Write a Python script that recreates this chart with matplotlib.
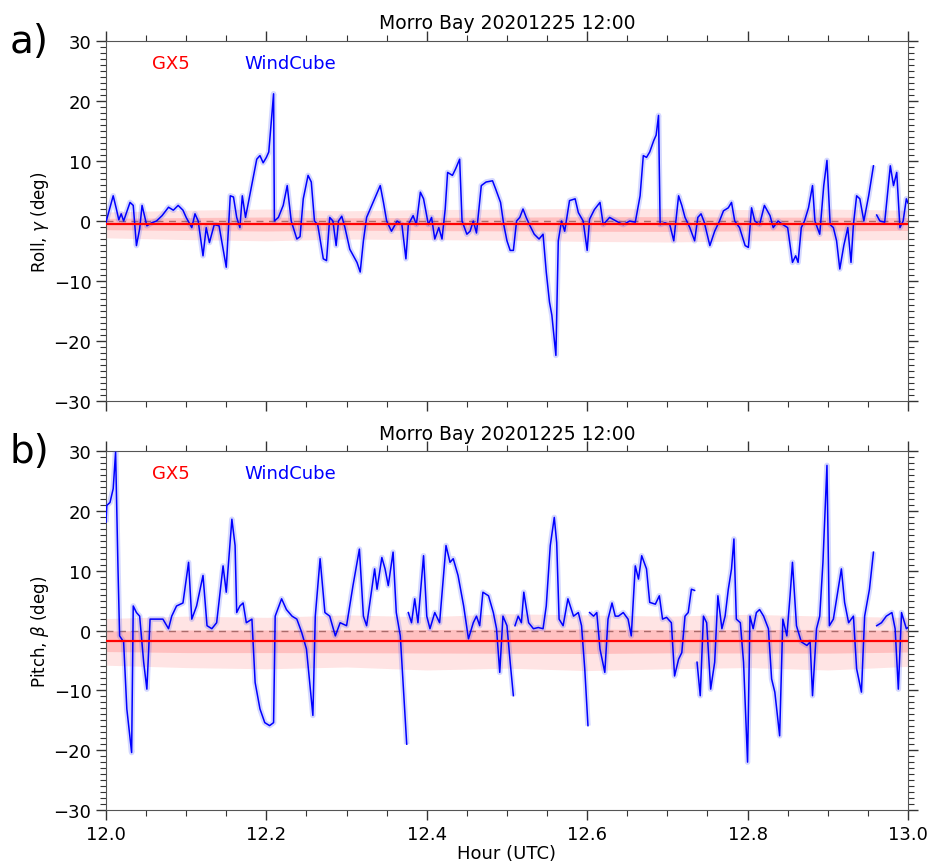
import numpy as np
import matplotlib.pyplot as plt
from matplotlib.ticker import MultipleLocator

nan = np.nan

# ---- panel a: roll ----
roll_hour = [12.000, 12.009, 12.013, 12.016, 12.019, 12.022, 12.030, 12.034, 12.038, 12.042,
             12.045, 12.051, 12.057, 12.063, 12.070, 12.078, 12.084, 12.090, 12.096, 12.100,
             12.107, 12.111, 12.115, 12.121, 12.125, 12.129, 12.135, 12.141, 12.150, 12.155,
             12.159, 12.163, 12.167, 12.170, 12.174, 12.188, 12.192, 12.196, 12.200, 12.203,
             12.209, 12.210, 12.215, 12.221, 12.226, 12.231, 12.238, 12.242, 12.246, 12.252,
             12.256, 12.260, 12.264, 12.271, 12.275, 12.279, 12.283, 12.287, 12.290, 12.294,
             12.298, 12.304, 12.313, 12.317, 12.321, 12.325, 12.333, 12.342, 12.346, 12.350,
             12.356, 12.363, 12.369, 12.374, 12.377, 12.383, 12.387, 12.392, 12.396, 12.402,
             12.406, 12.410, 12.415, 12.419, 12.423, 12.426, 12.432, 12.436, 12.441, 12.444,
             12.450, 12.454, 12.458, 12.462, 12.468, 12.474, 12.482, 12.486, 12.492, 12.496,
             12.500, 12.504, 12.508, 12.512, 12.516, 12.520, 12.524, 12.528, 12.534, 12.540,
             12.545, 12.549, 12.553, 12.556, 12.561, 12.564, 12.568, 12.572, 12.578, 12.585,
             12.589, 12.595, 12.600, 12.603, 12.609, 12.616, 12.620, 12.628, 12.636, 12.645,
             12.653, 12.660, 12.666, 12.670, 12.674, 12.678, 12.683, 12.686, 12.689, 12.691,
             12.697, 12.703, 12.708, 12.714, 12.718, 12.722, 12.728, 12.734, 12.738, 12.742,
             12.746, 12.753, 12.759, 12.765, 12.770, 12.776, 12.780, 12.784, 12.790, 12.797,
             12.801, 12.805, 12.809, 12.815, 12.821, 12.828, 12.832, 12.838, 12.844, 12.850,
             12.856, 12.860, 12.863, 12.867, 12.871, 12.876, 12.881, 12.884, 12.890, 12.895,
             12.899, 12.903, 12.907, 12.911, 12.915, 12.920, 12.925, 12.929, 12.932, 12.936,
             12.940, 12.945, 12.951, 12.957, 12.958, 12.961, 12.965, 12.971, 12.978, 12.982,
             12.986, 12.990, 12.994, 12.998, 13.000]
roll_wc = [-0.2, 4.2, 2.0, 0.2, 1.2, 0.0, 3.1, 2.6, -4.1, -1.3,
           2.6, -0.8, -0.3, 0.0, 0.9, 2.3, 1.8, 2.6, 1.8, 0.6,
           -1.1, 1.2, 0.0, -5.8, -1.1, -3.6, -0.6, -0.8, -7.7, 4.2,
           4.0, 0.6, -1.1, 4.2, 0.6, 10.3, 10.9, 9.7, 10.6, 11.5,
           21.2, 0.0, 0.6, 2.6, 5.9, 0.0, -3.0, -2.6, 3.7, 7.6,
           6.5, 0.0, -0.6, -6.3, -6.6, 0.6, 0.0, -4.1, 0.0, 0.8,
           -1.1, -4.7, -6.9, -8.5, -3.3, 0.6, 3.1, 5.9, 3.1, 0.0,
           -1.7, 0.0, -0.6, -6.3, -0.6, 0.9, -0.6, 4.8, 3.7, -0.6,
           0.6, -3.0, -1.1, -3.0, 2.0, 8.1, 7.6, 8.7, 10.3, 0.0,
           -2.2, -1.7, 0.0, -2.0, 5.9, 6.5, 6.7, 5.3, 3.1, -0.6,
           -3.3, -4.9, -4.9, 0.0, 0.6, 2.0, 0.6, -0.6, -2.2, -3.0,
           -2.2, -8.5, -13.5, -15.7, -22.4, -3.3, 0.0, -1.7, 3.4, 3.7,
           1.4, 0.0, -4.9, 0.3, 1.9, 3.1, -0.6, 0.6, 0.0, -0.6,
           0.0, -0.2, 4.2, 10.9, 10.6, 11.5, 13.4, 14.3, 17.6, -0.6,
           -0.3, -0.6, -3.3, 4.2, 2.6, 0.6, -1.1, -3.3, 0.6, 1.2,
           -0.2, -4.1, -1.7, 0.0, 1.7, 2.2, 3.1, 0.0, -1.1, -4.1,
           -4.4, 2.2, 0.0, -0.6, 2.6, 0.9, -1.1, 0.0, -0.6, -1.1,
           -6.9, -5.8, -6.9, -1.1, 0.0, 2.2, 5.9, 0.0, -2.2, 5.9,
           10.1, -0.6, -1.1, -3.3, -8.0, -4.1, -1.1, -6.9, -0.6, 4.2,
           3.7, 0.0, 4.2, 9.2, nan, 1.0, 0.0, -0.2, 9.2, 5.9,
           8.1, -1.1, 0.0, 3.7, 3.0]
roll_gx5_mean = -0.5
roll_gx5_hour = [12.0, 12.1, 12.2, 12.3, 12.4, 12.5, 12.6, 12.7, 12.8, 12.9, 13.0]
roll_gx5_hi = [2.0, 2.3, 2.5, 2.2, 2.4, 2.5, 2.6, 2.6, 2.4, 2.5, 2.3]
roll_gx5_lo = [-2.3, -2.6, -2.8, -2.5, -2.6, -2.7, -2.9, -3.0, -2.8, -2.7, -2.6]

# ---- panel b: pitch ----
pitch_hour = [12.000, 12.001, 12.005, 12.009, 12.012, 12.015, 12.017, 12.022, 12.026, 12.032,
              12.034, 12.038, 12.042, 12.047, 12.051, 12.055, 12.063, 12.071, 12.078, 12.082,
              12.088, 12.096, 12.103, 12.107, 12.113, 12.121, 12.126, 12.132, 12.138, 12.146,
              12.150, 12.157, 12.161, 12.163, 12.167, 12.171, 12.175, 12.182, 12.186, 12.192,
              12.198, 12.204, 12.209, 12.211, 12.219, 12.225, 12.232, 12.238, 12.244, 12.250,
              12.258, 12.261, 12.267, 12.273, 12.279, 12.286, 12.292, 12.300, 12.308, 12.316,
              12.321, 12.325, 12.329, 12.335, 12.338, 12.344, 12.348, 12.352, 12.358, 12.362,
              12.367, 12.375, 12.376, 12.377, 12.381, 12.385, 12.389, 12.396, 12.400, 12.404,
              12.410, 12.416, 12.424, 12.429, 12.433, 12.439, 12.446, 12.452, 12.458, 12.462,
              12.466, 12.470, 12.477, 12.483, 12.487, 12.491, 12.495, 12.500, 12.504, 12.508,
              12.509, 12.510, 12.514, 12.518, 12.521, 12.527, 12.533, 12.539, 12.545, 12.549,
              12.554, 12.559, 12.562, 12.565, 12.570, 12.576, 12.583, 12.589, 12.593, 12.597,
              12.601, 12.602, 12.603, 12.608, 12.612, 12.616, 12.622, 12.626, 12.631, 12.635,
              12.639, 12.645, 12.651, 12.655, 12.660, 12.664, 12.668, 12.674, 12.678, 12.685,
              12.690, 12.694, 12.699, 12.705, 12.709, 12.714, 12.718, 12.722, 12.726, 12.730,
              12.734, 12.735, 12.737, 12.741, 12.745, 12.749, 12.754, 12.759, 12.763, 12.768,
              12.772, 12.776, 12.780, 12.783, 12.786, 12.791, 12.795, 12.800, 12.803, 12.807,
              12.811, 12.815, 12.820, 12.826, 12.830, 12.834, 12.840, 12.844, 12.849, 12.853,
              12.856, 12.861, 12.867, 12.874, 12.878, 12.881, 12.886, 12.890, 12.894, 12.899,
              12.902, 12.907, 12.913, 12.917, 12.921, 12.926, 12.932, 12.936, 12.942, 12.946,
              12.952, 12.957, 12.958, 12.961, 12.967, 12.973, 12.980, 12.984, 12.988, 12.992,
              12.998, 13.000]
pitch_wc = [18.1, 20.9, 21.4, 23.7, 29.8, 10.3, -0.9, -1.9, -13.1, -20.4,
            4.1, 3.0, 2.4, -5.3, -9.8, 1.9, 1.9, 1.9, 0.3, 2.4,
            4.1, 4.6, 11.4, 1.9, 4.1, 9.2, 0.8, 0.3, 1.3, 10.8,
            6.4, 18.6, 14.2, 3.0, 4.1, 4.6, 1.3, 1.9, -8.7, -13.1,
            -15.4, -15.9, -15.4, 2.4, 5.3, 3.5, 2.4, 1.9, -0.3, -3.1,
            -14.2, 2.4, 12.0, 3.0, 2.4, -0.9, 1.3, 0.8, 7.5, 13.6,
            2.4, 0.8, 4.6, 10.3, 6.9, 12.2, 10.3, 7.5, 13.1, 3.0,
            -0.9, -19.0, nan, 3.0, 1.3, 5.3, 1.3, 12.5, 2.4, 0.3,
            3.0, 1.3, 14.2, 11.4, 12.0, 9.2, 4.1, -1.4, 1.3, 2.4,
            0.8, 6.4, 5.8, 3.0, 0.3, -7.0, 2.4, 0.8, -5.3, -10.9,
            nan, 0.8, 2.4, 1.3, 6.4, 1.3, 0.3, 0.5, 0.3, 4.1,
            14.2, 18.9, 14.7, 1.9, 0.8, 5.3, 2.4, 3.0, 0.8, -6.4,
            -15.9, nan, 3.0, 2.4, 3.0, -3.1, -7.0, 1.9, 4.6, 2.4,
            2.4, 3.0, 1.9, -0.9, 10.8, 8.6, 12.5, 10.3, 4.7, 4.4,
            5.8, 1.9, 2.2, 1.3, -7.6, -4.8, -3.7, 2.4, 3.0, 6.9,
            6.7, nan, -5.3, -10.9, 2.4, 1.3, -9.8, -5.3, 5.8, 0.3,
            2.4, 6.9, 10.3, 15.3, 1.9, 1.3, -5.3, -22.0, 2.4, 0.3,
            3.0, 3.5, 2.4, 0.3, -8.1, -10.3, -17.6, 1.9, -0.9, 5.8,
            11.4, 0.8, -1.9, -2.5, -1.9, -10.9, 0.3, 2.4, 11.4, 27.6,
            0.8, 1.9, 6.9, 10.3, 4.7, 1.3, 2.4, -6.4, -10.3, 2.4,
            6.9, 13.1, nan, 0.8, 1.3, 2.4, 3.0, 0.3, -9.8, 3.0,
            0.3, 0.5]
pitch_gx5_mean = -1.8
pitch_gx5_hour = [12.0, 12.1, 12.2, 12.3, 12.4, 12.5, 12.6, 12.7, 12.8, 12.9, 13.0]
pitch_gx5_hi = [3.8, 4.2, 4.0, 4.4, 4.1, 4.6, 4.4, 4.2, 4.5, 4.2, 4.0]
pitch_gx5_lo = [-4.0, -4.4, -4.6, -4.3, -4.8, -4.5, -4.9, -4.6, -4.4, -4.8, -4.2]

title = "Morro Bay 20201225 12:00"
xticks = [12.0, 12.2, 12.4, 12.6, 12.8, 13.0]


def draw_panel(ax, hour, wc, gx_hour, gx_hi, gx_lo, gx_mean, ylabel, letter, show_x):
    ax.axhline(0, color="grey", lw=1, ls=(0, (5, 4)), zorder=1)
    gx_hi = np.array(gx_hi) + gx_mean
    gx_lo = np.array(gx_lo) + gx_mean
    ax.fill_between(gx_hour, gx_lo, gx_hi, color="#ff4040", alpha=0.14, lw=0, zorder=2)
    mid = (gx_hi - gx_lo) * 0.22
    ax.fill_between(gx_hour, gx_mean - mid, gx_mean + mid, color="#ff4040", alpha=0.22,
                    lw=0, zorder=2)
    # light halo of raw samples + smoothed trace
    ax.plot(hour, wc, color="#4050ff", lw=4, alpha=0.22, zorder=3, solid_capstyle="butt")
    ax.plot(hour, wc, color="blue", lw=1.1, zorder=4)
    ax.plot(gx_hour, [gx_mean] * len(gx_hour), color="red", lw=1.6, zorder=5)

    ax.set_xlim(12.0, 13.0)
    ax.set_ylim(-30, 30)
    ax.set_xticks(xticks)
    ax.xaxis.set_minor_locator(MultipleLocator(0.05))
    ax.yaxis.set_major_locator(MultipleLocator(10))
    ax.yaxis.set_minor_locator(MultipleLocator(1))
    ax.tick_params(which="both", direction="out", top=True, right=True,
                   labelsize=13, colors="#333333", labelcolor="black")
    ax.tick_params(which="major", length=7, width=1)
    ax.tick_params(which="minor", length=4, width=0.8)
    if show_x:
        ax.set_xticklabels([f"{t:.1f}" for t in xticks])
        ax.set_xlabel("Hour (UTC)", fontsize=13, labelpad=1)
    else:
        ax.set_xticklabels([])
    for sp in ax.spines.values():
        sp.set_color("#555555")
    ax.set_ylabel(ylabel, fontsize=12, labelpad=2)
    ax.set_title(title, fontsize=13.5, pad=9)
    ax.text(0.058, 0.94, "GX5", color="red", fontsize=13, transform=ax.transAxes,
            ha="left", va="center")
    ax.text(0.173, 0.94, "WindCube", color="blue", fontsize=13, transform=ax.transAxes,
            ha="left", va="center")
    ax.text(-0.12, 1.0, letter, fontsize=28, transform=ax.transAxes, ha="left", va="center")


fig = plt.figure(figsize=(9.32, 8.62), dpi=100)
ax1 = fig.add_axes([0.1137, 0.5336, 0.8605, 0.4177])
ax2 = fig.add_axes([0.1137, 0.0592, 0.8605, 0.4164])

draw_panel(ax1, roll_hour, roll_wc, roll_gx5_hour, roll_gx5_hi, roll_gx5_lo, roll_gx5_mean,
           r"Roll, $\gamma$ (deg)", "a)", False)
draw_panel(ax2, pitch_hour, pitch_wc, pitch_gx5_hour, pitch_gx5_hi, pitch_gx5_lo, pitch_gx5_mean,
           r"Pitch, $\beta$ (deg)", "b)", True)

fig.savefig("out.png", dpi=100)
